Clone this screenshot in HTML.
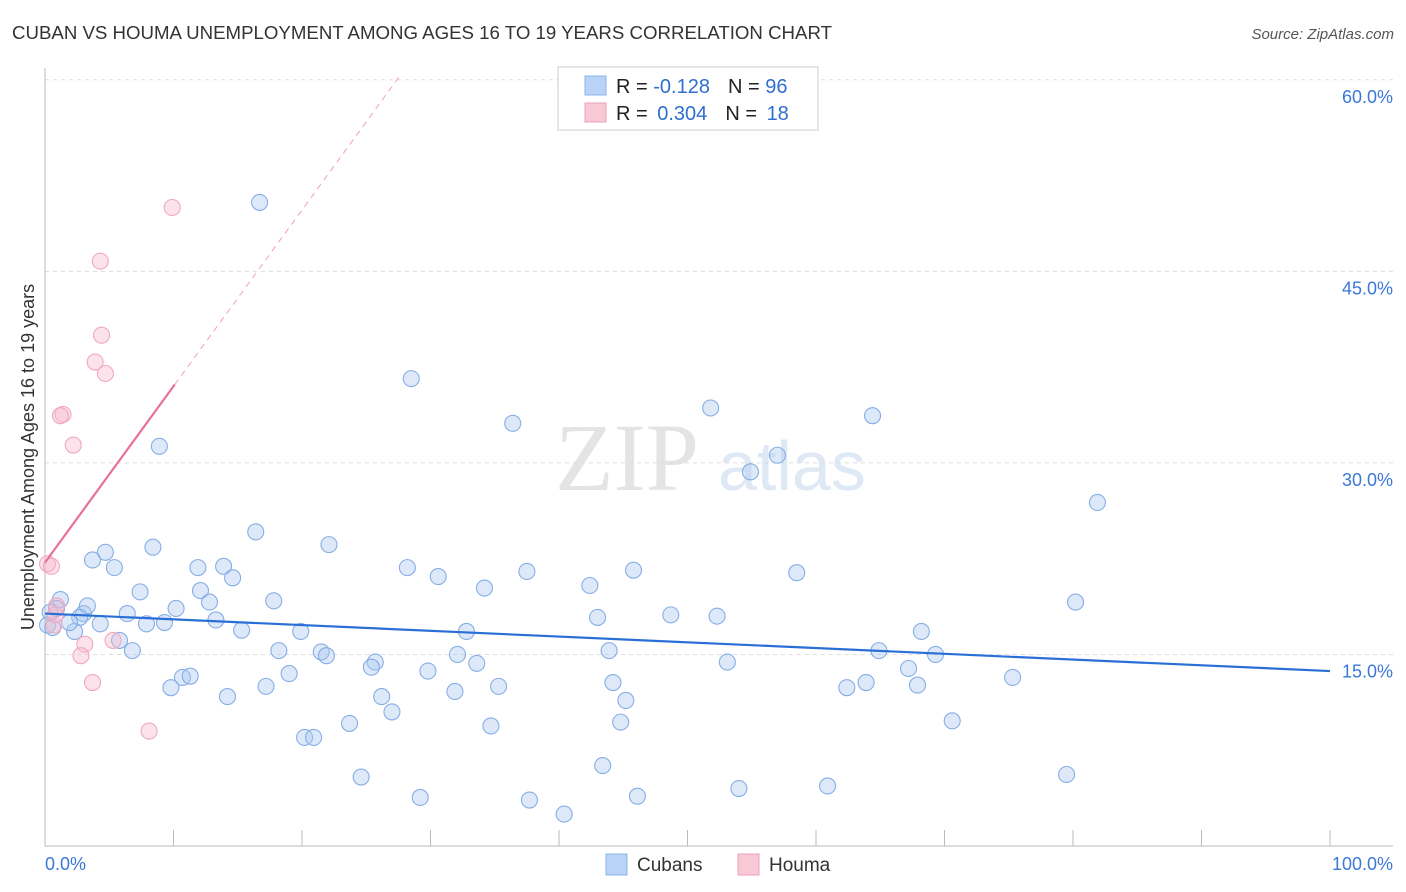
<!DOCTYPE html>
<html><head><meta charset="utf-8">
<style>
body{margin:0;background:#fff;font-family:"Liberation Sans",sans-serif;}
svg{display:block}
</style></head>
<body>
<svg id="chart" width="1406" height="892">
<text x="12" y="39" font-size="18" fill="#333" textLength="820" lengthAdjust="spacingAndGlyphs">CUBAN VS HOUMA UNEMPLOYMENT AMONG AGES 16 TO 19 YEARS CORRELATION CHART</text>
<text x="1394" y="39" font-size="15" fill="#555" font-style="italic" text-anchor="end">Source: ZipAtlas.com</text>
<text x="555" y="490" font-size="96" fill="#e4e4e4" font-family="Liberation Serif,serif">ZIP</text>
<text x="718" y="490" font-size="70" fill="#dfe8f5">atlas</text>
<g id="grid"></g>
<g id="axes"></g>
<g id="marks"></g>
<text transform="translate(34,457) rotate(-90)" font-size="18" fill="#333" text-anchor="middle">Unemployment Among Ages 16 to 19 years</text>
<g>
<rect x="558" y="67" width="260" height="63" fill="#fff" stroke="#ccc"/>
<rect x="585" y="76" width="21" height="19" fill="#b8d3f5" stroke="#8ab4e8"/>
<rect x="585" y="103" width="21" height="19" fill="#f9c8d6" stroke="#f0a0b8"/>
<text x="616" y="93" font-size="20" fill="#222">R = <tspan fill="#2f6fd0">-0.128</tspan><tspan dx="18">N = </tspan><tspan fill="#2f6fd0">96</tspan></text>
<text x="616" y="120" font-size="20" fill="#222">R = <tspan fill="#2f6fd0" dx="4">0.304</tspan><tspan dx="18">N = </tspan><tspan fill="#2f6fd0" dx="4">18</tspan></text>
</g>
<g>
<rect x="606" y="854" width="21" height="21" fill="#b8d3f5" stroke="#8ab4e8"/>
<text x="637" y="871" font-size="19" fill="#333">Cubans</text>
<rect x="738" y="854" width="21" height="21" fill="#f9c8d6" stroke="#f0a0b8"/>
<text x="769" y="871" font-size="19" fill="#333">Houma</text>
</g>
</svg>
<script>
const yTicks=[15,30,45,60];
const yTickLabels=["15.0%","30.0%","45.0%","60.0%"];
const xTickVals=[0,10,20,30,40,50,60,70,80,90,100];
const cubansX=[16.7,28.5,8.9,36.4,51.8,64.4,57.0,54.9,81.9,16.4,22.1,8.4,4.7,3.7,5.4,11.9,13.9,14.6,12.1,7.4,12.8,10.2,6.4,3.0,3.3,1.2,0.9,0.4,2.7,4.3,7.9,9.3,13.3,15.3,19.9,17.8,28.2,30.6,34.2,37.5,42.4,45.8,43.0,48.7,52.3,58.5,80.2,68.2,18.2,21.5,21.9,25.7,25.4,29.8,32.1,33.6,32.8,43.9,53.1,64.9,67.2,69.3,75.3,6.8,5.8,10.7,11.3,9.8,14.2,17.2,19.0,26.2,27.0,31.9,35.3,44.2,45.2,44.8,34.7,23.7,20.2,20.9,62.4,63.9,67.9,70.6,24.6,29.2,37.7,40.4,43.4,46.1,54.0,60.9,79.5,2.3,1.9,0.2,0.6];
const cubansY=[50.4,36.6,31.3,33.1,34.3,33.7,30.6,29.3,26.9,24.6,23.6,23.4,23.0,22.4,21.8,21.8,21.9,21.0,20.0,19.9,19.1,18.6,18.2,18.2,18.8,19.3,18.6,18.3,17.9,17.4,17.4,17.5,17.7,16.9,16.8,19.2,21.8,21.1,20.2,21.5,20.4,21.6,17.9,18.1,18.0,21.4,19.1,16.8,15.3,15.2,14.9,14.4,14.0,13.7,15.0,14.3,16.8,15.3,14.4,15.3,13.9,15.0,13.2,15.3,16.1,13.2,13.3,12.4,11.7,12.5,13.5,11.7,10.5,12.1,12.5,12.8,11.4,9.7,9.4,9.6,8.5,8.5,12.4,12.8,12.6,9.8,5.4,3.8,3.6,2.5,6.3,3.9,4.5,4.7,5.6,16.8,17.5,17.3,17.1];
const houmaX=[9.9,4.3,4.4,3.9,4.7,1.4,1.2,2.2,0.2,0.5,0.7,0.9,3.1,2.8,3.7,8.1,5.3,0.8];
const houmaY=[50.0,45.8,40.0,37.9,37.0,33.8,33.7,31.4,22.1,21.9,17.3,18.8,15.8,14.9,12.8,9.0,16.1,18.1];
const cubansTrend=[18.2,13.7];
const houmaTrend=[22.2,1.38];
const NS="http://www.w3.org/2000/svg";
const xs=v=>45+v*12.85, ys=v=>846-v*12.77;
function mk(t,a,p){const e=document.createElementNS(NS,t);for(const k in a)e.setAttribute(k,a[k]);p.appendChild(e);return e;}
const grid=document.getElementById('grid'),axes=document.getElementById('axes'),marks=document.getElementById('marks');
yTicks.forEach((v,i)=>{
 const l=mk('line',{x1:45,x2:1393,y1:ys(v),y2:ys(v),stroke:'#ddd','stroke-dasharray':'4,4'},grid);
 
 
 const t=mk('text',{x:1393,y:ys(v)+23,'font-size':18,fill:'#3b78d8','text-anchor':'end'},grid);
 t.textContent=yTickLabels[i];
 
 
});
mk('line',{x1:45,x2:45,y1:68,y2:846,stroke:'#bbb'},axes);
mk('line',{x1:45,x2:1393,y1:846,y2:846,stroke:'#bbb'},axes);
xTickVals.forEach(v=>{const l=mk('line',{x1:xs(v),x2:xs(v),y1:830,y2:846,stroke:'#bbb'},axes);
 
 });
const t0=mk('text',{x:45,y:870,'font-size':18,fill:'#3b78d8'},axes);t0.textContent='0.0%';


const t1=mk('text',{x:1393,y:870,'font-size':18,fill:'#3b78d8','text-anchor':'end'},axes);t1.textContent='100.0%';


cubansX.forEach((x,i)=>{const c=mk('circle',{cx:xs(x),cy:ys(cubansY[i]),r:8,fill:'rgba(170,200,240,0.4)',stroke:'#86aee6','stroke-width':1.1},marks);
 
 });
houmaX.forEach((x,i)=>{const c=mk('circle',{cx:xs(x),cy:ys(houmaY[i]),r:8,fill:'rgba(248,185,205,0.4)',stroke:'#f0a8bf','stroke-width':1.1},marks);
 
 });
const bl=mk('line',{x1:xs(0),y1:ys(cubansTrend[0]),x2:xs(100),y2:ys(cubansTrend[1]),stroke:'#2a6fd6','stroke-width':2.2},marks);


const hEnd=10.1, hMax=(60.5-houmaTrend[0])/houmaTrend[1];
const hl=mk('line',{x1:xs(0),y1:ys(houmaTrend[0]),x2:xs(hEnd),y2:ys(houmaTrend[0]+houmaTrend[1]*hEnd),stroke:'#e8709a','stroke-width':2.2},marks);


const hd=mk('line',{x1:xs(hEnd),y1:ys(houmaTrend[0]+houmaTrend[1]*hEnd),x2:xs(hMax),y2:ys(houmaTrend[0]+houmaTrend[1]*hMax),stroke:'#f0a0b8','stroke-width':1,'stroke-dasharray':'6,5'},marks);


</script>
</body></html>
